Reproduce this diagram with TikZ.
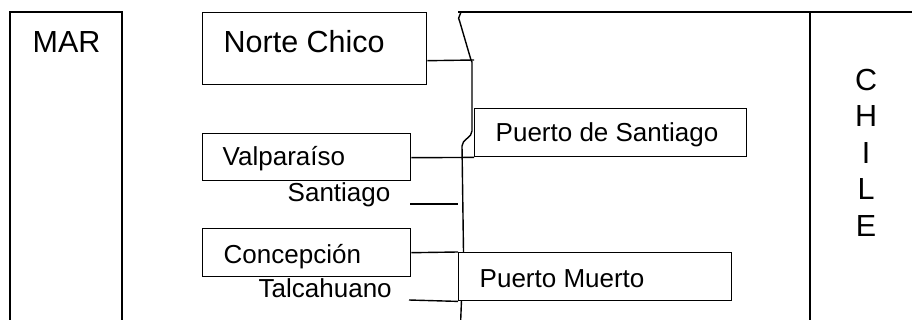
\documentclass[tikz,border=0pt]{standalone}
\usepackage{fontspec}
\setmainfont{Liberation Sans}
\begin{document}
\begin{tikzpicture}[x=1pt,y=-1pt,line width=1.4pt,
  box/.style={draw,rectangle,inner sep=0pt,anchor=north west,fill=white},
  big/.style={font=\fontsize{30.5}{36}\selectfont,inner sep=0pt},
  small/.style={font=\fontsize{26}{31}\selectfont,inner sep=0pt}]
\useasboundingbox (0,0) rectangle (912,320);
% sea column
\coordinate (marbl) at (10,320);
\coordinate (martl) at (10,12);
\coordinate (martr) at (122,12);
\coordinate (marbr) at (122,320);
\draw (marbl) -- (martl) -- (martr) -- (marbr);
\node[big,anchor=base west] (mar) at (32,53) {MAR};
% land frame
\coordinate (topl) at (458,12);
\coordinate (topr) at (912,12);
\coordinate (divt) at (810,12);
\coordinate (divb) at (810,320);
\draw (topl) -- (topr);
\draw (divt) -- (divb);
% coast line
\coordinate (c0) at (461,12);
\coordinate (c1) at (474,60);
\draw (c0) -- (458.6,18.2) -- (459.8,21.8) -- (471,60) -- (472,62) -- (472,131)
  .. controls (472,138) and (462,139) .. (462,146) -- (463.5,252) -- (461.5,300) -- (460.7,320);
% Norte Chico
\node[box,minimum width=224pt,minimum height=72pt] (nc) at (202,12) {};
\node[big,anchor=base west] (nct) at (223,53) {Norte Chico};
\draw ([yshift=-12pt]nc.east) -- (c1);
% Puerto de Santiago
\node[box,minimum width=272pt,minimum height=48pt] (ps) at (474,108) {};
\node[small,anchor=base west] (pst) at (495,142) {Puerto de Santiago};
% Valparaiso
\node[box,minimum width=208pt,minimum height=47pt] (va) at (202,133) {};
\node[small,anchor=base west] (vat) at (222,166) {Valparaíso};
\draw ([yshift=-0.5pt]va.east) -- (ps.south west);
% Santiago
\node[small,anchor=base west] (sa) at (287,202) {Santiago};
\coordinate (sal) at (410,204);
\coordinate (sar) at (458,204);
\draw (sal) -- (sar);
% Puerto Muerto
\node[box,minimum width=273pt,minimum height=48pt] (pm) at (458,252) {};
\node[small,anchor=base west] (pmt) at (479,287) {Puerto Muerto};
% Concepcion
\node[box,minimum width=208pt,minimum height=48pt] (co) at (202,228) {};
\node[small,anchor=base west] (cot) at (223,263) {Concepción};
\draw (co.east) -- (pm.north west);
% Talcahuano
\node[small,anchor=base west] (ta) at (258,297) {Talcahuano};
\coordinate (tal) at (409,300);
\draw (tal) -- (pm.south west);
% CHILE
\node[big,anchor=base] (ch1) at (866,90.5) {C};
\node[big,anchor=base] (ch2) at (866,127) {H};
\node[big,anchor=base] (ch3) at (866,163.5) {I};
\node[big,anchor=base] (ch4) at (866,200) {L};
\node[big,anchor=base] (ch5) at (866,236.5) {E};
\end{tikzpicture}
\end{document}
